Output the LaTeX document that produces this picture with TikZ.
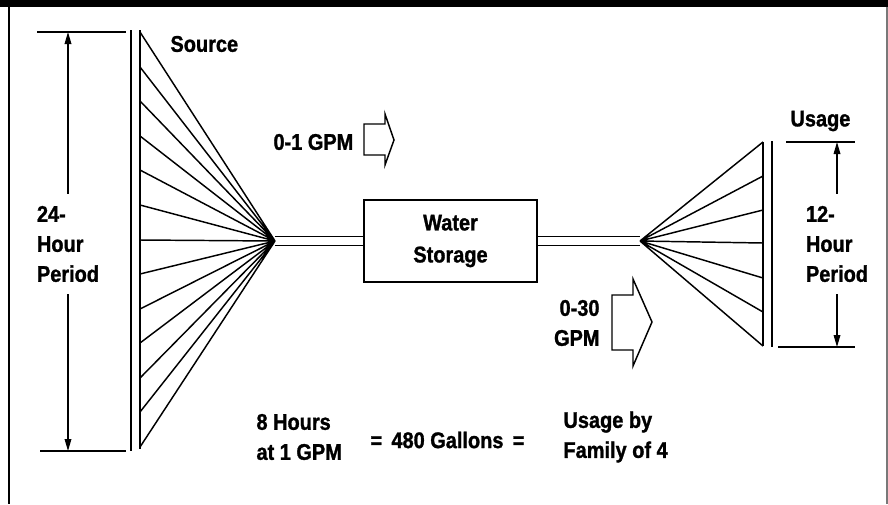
\documentclass[tikz,border=0pt]{standalone}
\usepackage{fontspec}
\setmainfont{Liberation Sans}[FakeStretch=0.88,BoldFeatures={FakeBold=1.2}]
\usetikzlibrary{arrows.meta}

\tikzset{every picture/.style={line width=0.75pt}}
\tikzset{
  fanline/.style={line width=1.1},
  wallline/.style={line width=1.4},
  dimline/.style={line width=0.9},
  dimarrow/.style={line width=0.9,shorten <=8pt,-{Triangle[length=9pt,width=5pt]}},
  pipeline/.style={line width=1.2},
  flowarrow/.style={line width=1.1,line join=miter},
  storagebox/.style={draw,line width=1.1,minimum width=129.75pt,minimum height=61.5pt,align=center,font=\fontsize{17}{24}\selectfont\bfseries},
  lbl/.style={inner sep=0.75pt,align=left,font=\fontsize{17}{22.5}\selectfont\bfseries},
}

\begin{document}
\begin{tikzpicture}[x=0.75pt,y=0.75pt,yscale=-1,xscale=1]
\useasboundingbox (0,0) rectangle (888,504);

%Frame
\fill (0,0) rectangle (888,7);
\draw [line width=1.5] (9,7) -- (9,504);
\draw [color={rgb, 255:red, 120; green, 120; blue, 120 }, line width=1] (887,7) -- (887,504);

%Apex points of the two fans
\coordinate (srcapex) at (275,241);
\coordinate (useapex) at (640,241);

%Shape: Rectangle
\node (storage) [storagebox] at (450.5,241) {Water\\Storage};

%Straight Lines (pipes)
\draw [pipeline] ([yshift=3.4pt]srcapex) -- ([yshift=3.4pt]storage.west);
\draw [pipeline] ([yshift=-3.4pt]srcapex) -- ([yshift=-3.4pt]storage.west);
\draw [pipeline] ([yshift=3.4pt]storage.east) -- ([yshift=3.4pt]useapex);
\draw [pipeline] ([yshift=-3.4pt]storage.east) -- ([yshift=-3.4pt]useapex);

%Straight Lines (source wall)
\draw [wallline] (131,30) -- (131,451);
\draw [line width=1.7] (140,30) -- (140,449);
%Straight Lines (source fan)
\draw [fanline] (srcapex) -- (140,32) (srcapex) -- (140,67) (srcapex) -- (140,101)
  (srcapex) -- (140,136) (srcapex) -- (140,170) (srcapex) -- (140,205)
  (srcapex) -- (140,240) (srcapex) -- (140,274) (srcapex) -- (140,309)
  (srcapex) -- (140,343) (srcapex) -- (140,378) (srcapex) -- (140,412)
  (srcapex) -- (140,447);

%Straight Lines (usage wall)
\draw [wallline] (763,142) -- (763,346);
\draw [wallline] (772,141) -- (772,347);
%Straight Lines (usage fan)
\draw [fanline] (useapex) -- (763,142) (useapex) -- (763,176) (useapex) -- (763,210)
  (useapex) -- (763,243) (useapex) -- (763,278) (useapex) -- (763,312)
  (useapex) -- (763,346);

%Straight Lines (24 hour span)
\coordinate (top24) at (68,32);
\coordinate (bot24) at (68,451);
\draw [dimline] (37,32) -- (126,32);
\draw [dimline] (40,451) -- (126,451);
% Text Node
\node (period24) [lbl] at (68,244) {24-\\Hour\\Period};
\draw [dimarrow] (period24.north) -- (period24.north |- top24);
\draw [dimarrow] (period24.south) -- (period24.south |- bot24);

%Straight Lines (12 hour span)
\coordinate (top12) at (837,142);
\coordinate (bot12) at (837,347);
\draw [dimline] (786,142) -- (855,142);
\draw [dimline] (778,347) -- (855,347);
% Text Node
\node (period12) [lbl] at (837,244) {12-\\Hour\\Period};
\draw [dimarrow] (period12.north) -- (period12.north |- top12);
\draw [dimarrow] (period12.south) -- (period12.south |- bot12);

%Shape: Block Arrow (inflow)
\draw [flowarrow] (364,124) -- (385,124) -- (385,114) -- (394,140) -- (385,165) -- (385,155) -- (364,155) -- cycle;
%Shape: Block Arrow (outflow)
\draw [flowarrow] (612,295) -- (633,295) -- (633,279) -- (652,322) -- (633,366) -- (633,350) -- (612,350) -- cycle;

% Text Node
\node (source) [lbl, anchor=west] at (169,44) {Source};
% Text Node
\node (usage) [lbl, anchor=west] at (789,121) {Usage};
% Text Node
\node (gpm1) [lbl, anchor=west] at (272,142) {0-1 GPM};
% Text Node
\node (gpm30) [lbl, anchor=east, align=right] at (601,323) {0-30\\GPM};
% Text Node
\node (hours8) [lbl, anchor=west] at (255,437) {8 Hours\\at 1 GPM};
% Text Node
\node (gallons) [lbl, anchor=west] at (369,440) {=\ \,480 Gallons\ \,=};
% Text Node
\node (family) [lbl, anchor=west] at (562,437) {Usage by\\Family of 4};

\end{tikzpicture}
\end{document}
